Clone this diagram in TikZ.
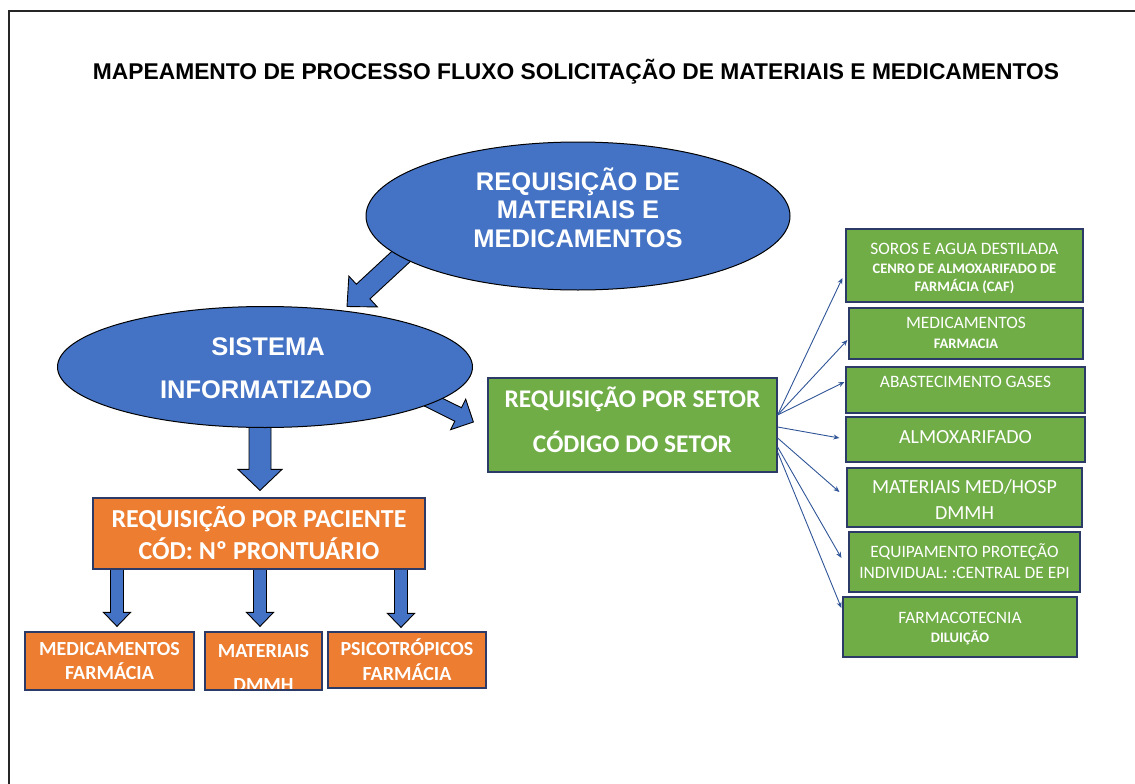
\documentclass[tikz,border=0pt]{standalone}
\usepackage{fontspec}
\setmainfont{Liberation Sans}
\newfontfamily\calfont{Carlito}
\usetikzlibrary{calc,backgrounds,arrows.meta,shapes.geometric}
\definecolor{cblue}{HTML}{4472C4}
\definecolor{cgreen}{HTML}{70AD47}
\definecolor{corange}{HTML}{ED7D31}
\definecolor{cnavy}{HTML}{2B3A67}
\definecolor{carrow}{HTML}{2F5597}
\newcommand{\blockarr}[5]{%
  \path ($(#2)!#5!(#1)$) coordinate (bah);
  \draw[barrow] ($(#1)!#3!90:(#2)$) -- ($(bah)!#3!90:(#2)$) -- ($(bah)!#4!90:(#2)$) -- (#2)
    -- ($(bah)!#4!-90:(#2)$) -- ($(bah)!#3!-90:(#2)$) -- ($(#1)!#3!-90:(#2)$) -- cycle;}
\begin{document}
\begin{tikzpicture}[x=1pt,y=-1pt,
  ellbox/.style={ellipse, draw=black, line width=1pt, fill=cblue, inner sep=0pt},
  gbox/.style={rectangle, draw=cnavy, line width=1.2pt, fill=cgreen, inner sep=0pt},
  obox/.style={rectangle, draw=cnavy, line width=1.2pt, fill=corange, inner sep=0pt},
  wtxt/.style={text=white, inner sep=0pt, anchor=base},
  barrow/.style={fill=cblue, draw=black, line width=0.9pt, line join=miter},
  thinarr/.style={draw=carrow, line width=0.9pt, -{Stealth[length=6pt,width=5pt]}},
  eltxt/.style={wtxt, font=\bfseries\fontsize{25.5}{28}\selectfont},
  gtxt/.style={wtxt, font=\calfont\bfseries\fontsize{25.4}{28}\selectfont},
  otxt/.style={wtxt, font=\calfont\bfseries\fontsize{25.9}{28}\selectfont},
  btxt/.style={wtxt, font=\calfont\bfseries\fontsize{20}{22}\selectfont},
  rtxt/.style={wtxt, font=\calfont\fontsize{17.4}{20}\selectfont},
  rbig/.style={wtxt, font=\calfont\fontsize{20}{22}\selectfont},
  rsm/.style={wtxt, font=\calfont\bfseries\fontsize{14.5}{16}\selectfont},
]
\useasboundingbox (0,0) rectangle (1135,784);
\draw[line width=1.5pt, black!85] (9,784) -- (9,11) -- (1135,11);

% title
\node[wtxt, text=black, font=\bfseries\fontsize{22.8}{26}\selectfont] (title) at (576,80)
  {MAPEAMENTO DE PROCESSO FLUXO SOLICITAÇÃO DE MATERIAIS E MEDICAMENTOS};

% ellipses
\node[ellbox, minimum width=424pt, minimum height=148pt] (e1) at (578,216) {};
\node[eltxt] (e1a) at (578,190) {REQUISIÇÃO DE};
\node[eltxt] (e1b) at (578,218.5) {MATERIAIS E};
\node[eltxt] (e1c) at (578,247) {MEDICAMENTOS};

\node[ellbox, minimum width=415pt, minimum height=121pt] (e2) at (265,367) {};
\node[eltxt] (e2a) at (268,355) {SISTEMA};
\node[eltxt] (e2b) at (266,398) {INFORMATIZADO};

% main green box
\node[gbox, minimum width=289pt, minimum height=94pt] (g) at (632.5,425) {};
\node[gtxt] (ga) at (632.5,407) {REQUISIÇÃO POR SETOR};
\node[gtxt] (gb) at (632.5,452) {CÓDIGO DO SETOR};

% main orange box
\node[obox, minimum width=332pt, minimum height=71pt] (o) at (259,533.5) {};
\node[otxt] (oa) at (259,527) {REQUISIÇÃO POR PACIENTE};
\node[otxt] (ob) at (259,559) {CÓD: Nº PRONTUÁRIO};

% bottom orange boxes
\node[obox, minimum width=169pt, minimum height=58pt] (b1) at (109.5,661) {};
\node[btxt] (b1a) at (109.5,655) {MEDICAMENTOS};
\node[btxt] (b1b) at (109.5,679) {FARMÁCIA};
\node[obox, minimum width=117pt, minimum height=58pt] (b2) at (263.5,661) {};
\begin{scope}
  \clip ($(b2.north west)+(1,1)$) rectangle ($(b2.south east)+(-1,-2)$);
  \node[btxt] (b2a) at (263.5,657) {MATERIAIS};
  \node[btxt] (b2b) at (263.5,691) {DMMH};
\end{scope}
\node[obox, minimum width=158pt, minimum height=56pt] (b3) at (407,660) {};
\node[btxt] (b3a) at (407,655) {PSICOTRÓPICOS};
\node[btxt] (b3b) at (407,680) {FARMÁCIA};

% right green boxes
\node[gbox, minimum width=237pt, minimum height=73pt] (r1) at (964.5,265.5) {};
\node[rtxt] (r1a) at (964.5,254) {SOROS E AGUA DESTILADA};
\node[rsm] (r1b) at (964.5,273) {CENRO DE ALMOXARIFADO DE};
\node[rsm] (r1c) at (964.5,291) {FARMÁCIA (CAF)};

\node[gbox, minimum width=234pt, minimum height=51pt] (r2) at (966,333.5) {};
\node[rtxt] (r2a) at (966,328) {MEDICAMENTOS};
\node[rsm] (r2b) at (966,348) {FARMACIA};

\node[gbox, minimum width=239pt, minimum height=46pt] (r3) at (965.5,390) {};
\node[rtxt] (r3a) at (965.5,387) {ABASTECIMENTO GASES};

\node[gbox, minimum width=239pt, minimum height=45pt] (r4) at (965.5,439.5) {};
\node[rbig] (r4a) at (965.5,443) {ALMOXARIFADO};

\node[gbox, minimum width=235pt, minimum height=59pt] (r5) at (964.5,497.5) {};
\node[rbig] (r5a) at (964.5,493) {MATERIAIS MED/HOSP};
\node[rbig] (r5b) at (964.5,519) {DMMH};

\node[gbox, minimum width=231pt, minimum height=60pt] (r6) at (964.5,562) {};
\node[rtxt] (r6a) at (964.5,557) {EQUIPAMENTO PROTEÇÃO};
\node[rtxt] (r6b) at (964.5,578) {INDIVIDUAL: :CENTRAL DE EPI};

\node[gbox, minimum width=234pt, minimum height=60pt] (r7) at (960,627) {};
\node[rtxt] (r7a) at (960,623) {FARMACOTECNIA};
\node[rsm] (r7b) at (960,642) {DILUIÇÃO};

% block arrows (behind shapes)
\begin{scope}[on background layer]
  \coordinate (a1s) at ($(e1.center)+(-170,34)$);
  \coordinate (a1t) at ($(e2.north)+(82,0.5)$);
  \blockarr{a1s}{a1t}{10pt}{21pt}{22pt}
  \coordinate (a2s) at ($(e2.center)+(160,31)$);
  \coordinate (a2t) at ($(g.west)+(-14,-3)$);
  \blockarr{a2s}{a2t}{7.5pt}{17pt}{17pt}
  \coordinate (a3s) at ($(e2.south)+(-5,-8)$);
  \coordinate (a3t) at ($(o.north)+(1,-7)$);
  \blockarr{a3s}{a3t}{11pt}{22pt}{21pt}
  \coordinate (s1s) at ($(o.south)+(-142,-5)$);
  \coordinate (s1t) at ($(b1.north)+(7.5,-5)$);
  \blockarr{s1s}{s1t}{6.5pt}{13.5pt}{14pt}
  \coordinate (s2s) at ($(o.south)+(1,-5)$);
  \coordinate (s2t) at ($(b2.north)+(-3.5,-5)$);
  \blockarr{s2s}{s2t}{6.5pt}{13.5pt}{14pt}
  \coordinate (s3s) at ($(o.south)+(142,-5)$);
  \coordinate (s3t) at ($(b3.north)+(-6,-4)$);
  \blockarr{s3s}{s3t}{6.5pt}{13.5pt}{14pt}
\end{scope}

% thin arrows
\draw[thinarr] ($(g.east)+(0,-10)$) -- ($(r1.west)+(-3,12.5)$);
\draw[thinarr] ($(g.east)+(0,-10)$) -- ($(r2.west)+(-1,6.5)$);
\draw[thinarr] ($(g.east)+(0,-10)$) -- ($(r3.west)+(-1,-8)$);
\draw[thinarr] ($(g.east)+(0,2)$) -- ($(r4.west)+(-6,-1.5)$);
\draw[thinarr] ($(g.east)+(0,13)$) -- ($(r5.west)+(-7,-5.5)$);
\draw[thinarr] ($(g.east)+(0,22)$) -- ($(r6.west)+(-7,-4)$);
\draw[thinarr] ($(g.east)+(0,27)$) -- ($(r7.west)+(-1,-19)$);
\end{tikzpicture}
\end{document}
